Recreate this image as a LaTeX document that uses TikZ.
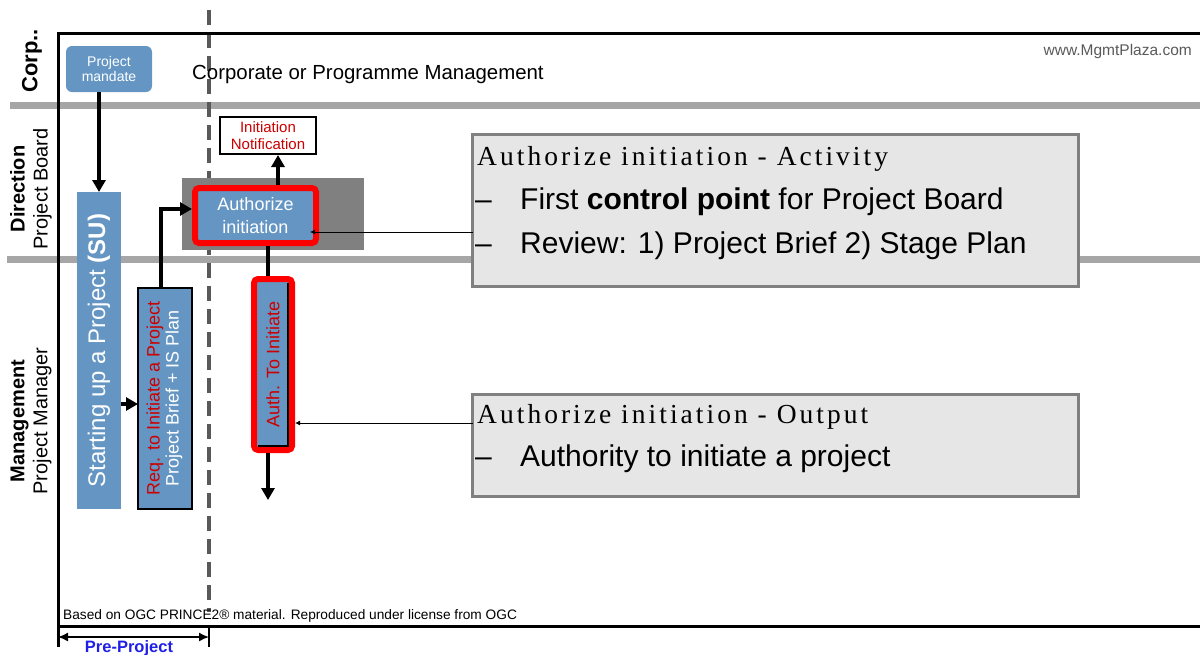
\documentclass[tikz,border=0pt]{standalone}
\usepackage{fontspec}
\setmainfont{Liberation Sans}
\newfontfamily\titlefont[LetterSpace=11]{Liberation Serif}
\newfontfamily\calloutfont{Liberation Sans}
\usetikzlibrary{arrows.meta}
\definecolor{pblue}{HTML}{6596C3}
\definecolor{lanegray}{HTML}{A6A6A6}
\definecolor{dashgray}{HTML}{595959}
\definecolor{darkred}{HTML}{CC0000}
\definecolor{calloutfill}{HTML}{E6E6E6}
\definecolor{calloutdraw}{HTML}{808080}
\definecolor{bggray}{HTML}{808080}
\definecolor{preblue}{HTML}{1F1FE6}
\newcommand\fsz[2]{\fontsize{#1}{#2}\selectfont}
\begin{document}
\begin{tikzpicture}[x=1pt,y=-1pt,
  bluebox/.style={fill=pblue, draw=none, inner sep=0pt, outer sep=0pt, text=white},
  redbox/.style={fill=pblue, draw=red, line width=6pt, rounded corners=4pt, inner sep=0pt},
  callout/.style={fill=calloutfill, draw=calloutdraw, line width=3pt, inner sep=0pt, outer sep=0pt, anchor=north west},
  thickarr/.style={line width=3.5pt, -{Triangle[length=12pt,width=13pt]}},
  thinarr/.style={line width=0.8pt, -{Latex[length=5pt,width=5pt]}},
  ttl/.style={anchor=base west, font=\titlefont\fsz{27.5}{30}},
  body/.style={anchor=base west, font=\calloutfont\fsz{30}{32}},
  lanelbl/.style={rotate=90, align=center, font=\fsz{20}{23}}
]
\useasboundingbox (0,0) rectangle (1200,654);

% lane separators
\draw[lanegray, line width=7pt] (10,105) -- (1200,105);
\draw[lanegray, line width=7pt] (7,259) -- (1200,259);
% phase divider
\draw[dashgray, line width=3.5pt, dash pattern=on 15pt off 8pt] (209,10) -- (209,612);
% frame
\draw[line width=3pt] (1200,33) -- (58,33) -- (58,647);
\draw[line width=3pt] (58,626) -- (1200,626);
\draw[line width=2pt] (209,626) -- (209,647);

% lane labels
\node[font=\fsz{22}{24}\bfseries, rotate=90] (corp) at (32,61) {Corp..};
\node[lanelbl] (dir) at (31,189) {\textbf{Direction}\\Project Board};
\node[lanelbl] (mgmt) at (31,421) {\textbf{Management}\\Project Manager};

\node[anchor=base west, font=\fsz{20.4}{24}, inner sep=0pt] (corptxt) at (192,79) {Corporate or Programme Management};
\node[anchor=base east, font=\fsz{15.5}{18}, text=dashgray, inner sep=0pt] (www) at (1192,55) {www.MgmtPlaza.com};

% boxes
\node[bluebox, rounded corners=6pt, minimum width=86pt, minimum height=46pt, anchor=north west, align=center, font=\fsz{14}{15}] (mandate) at (66,46) {Project\\mandate};
\node[bluebox, minimum width=44pt, minimum height=317pt, anchor=north west, font=\fsz{24}{26}] (su) at (77,192) {\rotatebox{90}{Starting up a Project \textbf{(SU)}}};
\node[bluebox, draw=black, line width=2pt, minimum width=54pt, minimum height=221pt, anchor=north west, font=\fsz{18}{21}] (req) at (138,288) {\rotatebox{90}{\begin{tabular}{@{}c@{}}\textcolor{darkred}{Req. to Initiate a Project}\\[-2pt]\textcolor{white}{Project Brief + IS Plan}\end{tabular}}};

\node[fill=bggray, inner sep=0pt, outer sep=0pt, minimum width=182pt, minimum height=72pt, anchor=north west] (authbg) at (182,178) {};
\node[redbox, minimum width=121pt, minimum height=55pt, align=center, text=white, font=\fsz{18}{23}] (auth) at (255.5,215.5) {Authorize\\initiation};
\node[fill=white, draw=black, line width=2pt, inner sep=0pt, minimum width=96pt, minimum height=37pt, align=center, font=\fsz{15}{17}, text=darkred] (notif) at (268,135.5) {Initiation\\Notification};

\node[redbox, minimum width=38pt, minimum height=171pt, text=darkred, font=\fsz{18}{20}] (ati) at (273,364.5) {\rotatebox{90}{Auth. To Initiate}};
\draw[line width=1.5pt] (288,283) -- (288,446) -- (257.5,446);

% connectors
\draw[thickarr] (su.north |- mandate.south) -- (su.north);
\draw[thickarr] (su.east |- 0,404) -- (req.west |- 0,404);
\draw[thickarr] (req.north -| 161,0) |- (auth.west |- 0,209);
\draw[thickarr] (auth.north -| 278,0) -- (notif.south -| 278,0);
\draw[line width=3.5pt] (auth.south -| 268,0) -- (ati.north -| 268,0);
\coordinate (atiout) at (268,500);
\draw[thickarr] (ati.south -| 268,0) -- (atiout);

% callouts
\node[callout, minimum width=606pt, minimum height=152pt] (c1) at (472.5,134.5) {};
\node[callout, minimum width=606pt, minimum height=102pt] (c2) at (472.5,394.5) {};
\coordinate (authin) at (310,232);
\draw[thinarr] (c1.west |- authin) -- (authin);
\draw[thinarr] (c2.west |- 0,423) -- (ati.east |- 0,423);

\node[ttl, inner sep=0pt] (c1t) at (477,165) {Authorize initiation - Activity};
\node[body, inner sep=0pt] (c1d1) at (475,209) {–};
\node[body, inner sep=0pt] (c1l1) at (520,209) {First \textbf{control point} for Project Board};
\node[body, inner sep=0pt] (c1d2) at (475,253) {–};
\node[body, inner sep=0pt] (c1l2) at (520,253) {Review: 1) Project Brief 2) Stage Plan};

\node[ttl, inner sep=0pt] (c2t) at (477,423) {Authorize initiation - Output};
\node[body, inner sep=0pt] (c2d1) at (475,466) {–};
\node[body, inner sep=0pt] (c2l1) at (520,466) {Authority to initiate a project};

% footer
\node[anchor=base west, inner sep=0pt, font=\fsz{13.7}{16}] (credit) at (63,619) {Based on OGC PRINCE2® material. Reproduced under license from OGC};
\coordinate (ppl) at (58,637);
\coordinate (ppr) at (209,637);
\draw[line width=1.5pt, {Latex[length=10pt,width=9pt]}-{Latex[length=10pt,width=9pt]}] (ppl) -- (ppr);
\node[anchor=base, inner sep=0pt, text=preblue, font=\fsz{16.5}{18}\bfseries] (pre) at (129,652) {Pre-Project};
\end{tikzpicture}
\end{document}
